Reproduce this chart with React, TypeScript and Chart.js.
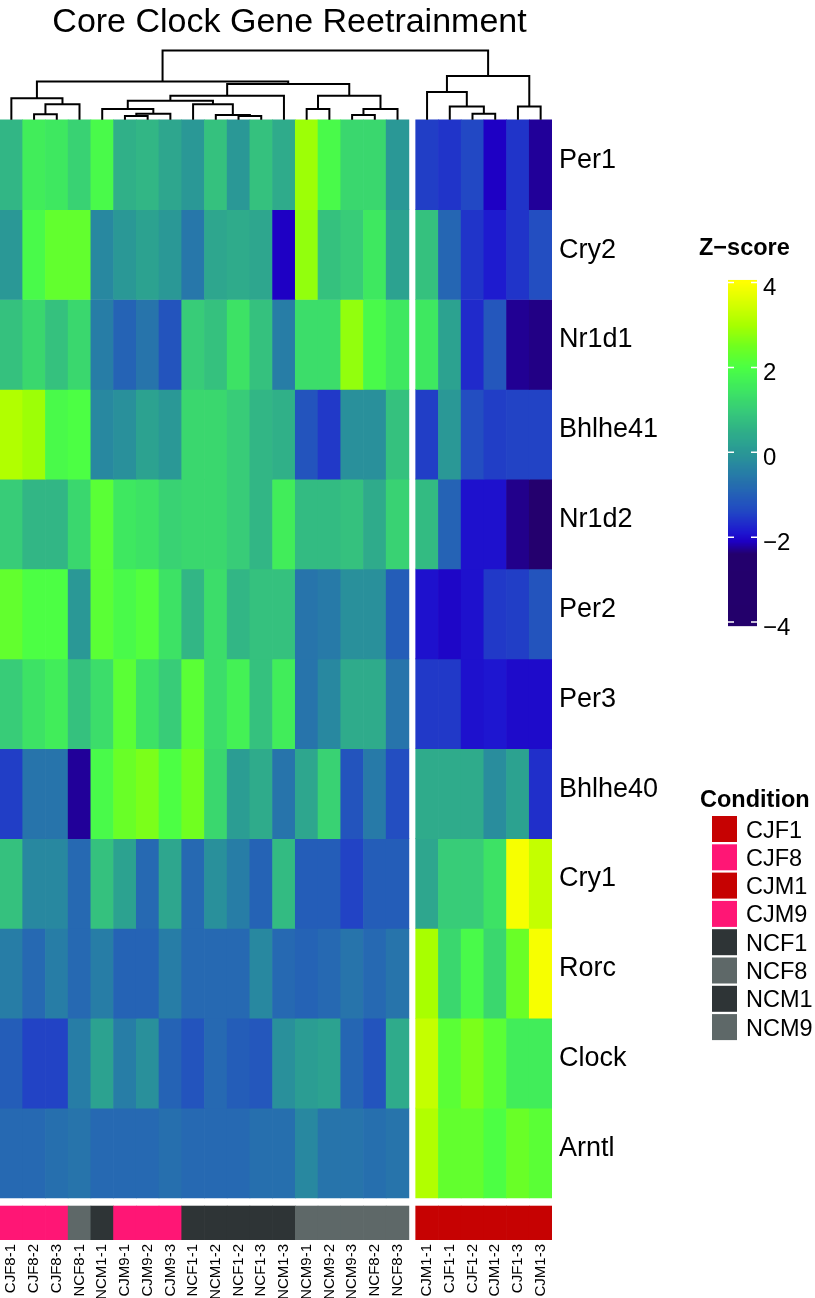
import React, { useEffect, useRef } from "react";
import { Chart, registerables } from "chart.js";

Chart.register(...registerables);

// ---------------- data ----------------
const TITLE = "Core Clock Gene Reetrainment";

const GENES = ["Per1", "Cry2", "Nr1d1", "Bhlhe41", "Nr1d2", "Per2", "Per3", "Bhlhe40", "Cry1", "Rorc", "Clock", "Arntl"];

const SAMPLES = [
  "CJF8-1", "CJF8-2", "CJF8-3", "NCF8-1", "NCM1-1", "CJM9-1", "CJM9-2", "CJM9-3", "NCF1-1",
  "NCM1-2", "NCF1-2", "NCF1-3", "NCM1-3", "NCM9-1", "NCM9-2", "NCM9-3", "NCF8-2", "NCF8-3",
  "CJM1-1", "CJF1-1", "CJF1-2", "CJM1-2", "CJF1-3", "CJM1-3",
];

// number of samples in the first column cluster (cutree split)
const FIRST_CLUSTER_SIZE = 18;

const PER1 = [0.6, 1.6, 1.5, 1.1, 1.9, 0.5, 0.6, 0.3, 0.0, 0.8, 0.0, 0.8, 0.4, 2.9, 1.9, 1.2, 1.2, 0.0, -1.5, -1.6, -1.4, -2.1, -1.6, -2.25];
const CRY2 = [0.0, 1.9, 2.3, 2.3, -0.3, 0.0, 0.2, 0.0, -0.6, 0.3, 0.4, 0.3, -2.1, 2.8, 0.8, 1.0, 1.5, 0.2, 0.8, -0.9, -1.6, -1.85, -1.6, -1.3];
const NR1D1 = [0.8, 1.2, 0.8, 1.2, -0.5, -0.95, -0.65, -1.2, 1.0, 0.8, 1.4, 0.8, -0.5, 1.3, 1.3, 2.8, 1.9, 1.5, 1.5, 0.2, -1.7, -1.15, -2.27, -2.32];
const BHLHE41 = [3.1, 2.9, 1.9, 2.0, -0.3, -0.15, 0.2, 0.0, 1.2, 1.2, 1.0, 0.6, 0.5, -1.2, -1.55, -0.15, -0.15, 0.8, -1.5, 0.0, -1.3, -1.5, -1.45, -1.45];
const NR1D2 = [1.0, 0.6, 0.6, 1.2, 2.2, 1.5, 1.4, 1.1, 1.2, 1.2, 1.0, 0.6, 1.6, 0.7, 0.7, 0.8, 0.4, 1.1, 0.7, -0.95, -1.95, -1.95, -2.3, -2.6];
const PER2 = [2.3, 2.0, 2.0, 0.0, 2.2, 1.9, 2.1, 1.4, 0.6, 1.3, 0.6, 0.8, 0.8, -0.65, -0.55, -0.15, -0.15, -1.05, -1.95, -2.05, -1.95, -1.55, -1.5, -1.2];
const PER3 = [1.0, 1.4, 1.6, 0.8, 1.3, 2.2, 1.4, 1.0, 2.2, 1.3, 1.7, 0.8, 1.6, -0.65, -0.3, 0.4, 0.4, -0.65, -1.55, -1.55, -1.95, -1.9, -2.0, -2.0];
const BHLHE40 = [-1.5, -0.65, -0.65, -2.25, 1.9, 2.4, 2.6, 2.0, 2.5, 1.2, 0.1, 0.4, -0.65, 0.3, 1.1, -1.2, -0.55, -1.3, 0.4, 0.4, 0.4, -0.2, 0.2, -1.65];
const CRY1 = [0.8, -0.3, -0.3, -0.85, 0.8, 0.2, -0.85, 0.3, -0.85, -0.15, -0.5, -0.95, 0.7, -1.05, -1.05, -1.45, -1.05, -1.05, 0.3, 1.0, 1.0, 1.4, 3.9, 3.3];
const RORC = [-0.5, -0.85, -0.5, -0.85, -0.5, -0.95, -0.95, -0.5, -0.85, -0.85, -0.85, -0.3, -0.85, -0.95, -0.85, -0.65, -0.85, -0.65, 3.0, 1.2, 1.9, 1.2, 2.4, 3.9];
const CLOCK = [-1.05, -1.45, -1.45, -0.5, 0.2, -0.5, -0.15, -0.95, -1.2, -0.85, -1.05, -1.15, -0.15, 0.1, 0.2, -0.9, -1.2, 0.4, 3.3, 2.2, 2.6, 2.2, 1.6, 1.6];
const ARNTL = [-0.85, -0.85, -0.75, -0.65, -0.85, -0.85, -0.85, -0.75, -0.85, -0.85, -0.85, -0.75, -0.75, -0.3, -0.65, -0.65, -0.75, -0.65, 3.1, 2.3, 2.3, 2.0, 2.4, 2.2];

const Z_ROWS = [PER1, CRY2, NR1D1, BHLHE41, NR1D2, PER2, PER3, BHLHE40, CRY1, RORC, CLOCK, ARNTL];

const CONDITIONS = ["CJF1", "CJF8", "CJM1", "CJM9", "NCF1", "NCF8", "NCM1", "NCM9"];
const CONDITION_COLORS = ["#C60202", "#FF1675", "#C60202", "#FF1675", "#2E3436", "#5E6868", "#2E3436", "#5E6868"];

const Z_TICKS = [4, 2, 0, -2, -4];

// column dendrogram (hclust style: negative = leaf column number, positive = earlier merge number)
const MERGE_PAIRS: [number, number][] = [
  [-2, -3], [1, -4], [-1, 2], [-6, -7], [4, -8], [-5, 5], [-11, -12], [-10, 7], [-9, 8], [6, 9],
  [10, -13], [-14, -15], [-16, -17], [13, -18], [12, 14], [11, 15], [3, 16], [-21, -22], [-20, 18],
  [-19, 19], [-23, -24], [20, 21], [17, 22],
];
const MERGE_HEIGHTS = [
  0.54, 1.54, 2.15, 0.37, 0.61, 1.07, 0.37, 0.47, 1.54, 1.90,
  2.40, 1.07, 0.47, 1.07, 2.40, 3.58, 3.83, 0.61, 1.33,
  2.77, 1.33, 4.37, 6.92,
];

// ---------------- layout / style ----------------
const W = 815;
const H = 1298;
const AREA_TOP = 47;
const AREA_RIGHT = 552;
const XAXIS_H = 58;
const GAP_COLS = 0.3;
const DEND_ROWS = 0.81;
const ANNO_GAP = 0.09;
const ANNO_ROWS = 0.378;
const DEND_TOP = 7.27;
const FONT = '"Liberation Sans", Arial, Helvetica, sans-serif';

const PALETTE: [number, number, number, number][] = [
  [-4.0, 36, 0, 108],
  [-2.4, 36, 0, 110],
  [-2.1, 30, 0, 196],
  [-1.9, 30, 22, 208],
  [-1.4, 34, 72, 196],
  [-0.8, 38, 108, 176],
  [-0.3, 40, 136, 160],
  [0.0, 42, 152, 150],
  [0.5, 48, 176, 136],
  [1.0, 56, 204, 120],
  [1.5, 62, 232, 96],
  [2.0, 76, 255, 68],
  [2.5, 112, 255, 32],
  [3.0, 168, 255, 0],
  [3.5, 214, 255, 0],
  [4.0, 255, 255, 0],
];

function zColor(v: number): string {
  const z = Math.max(-4, Math.min(4, v));
  for (let i = 1; i < PALETTE.length; i++) {
    const a = PALETTE[i - 1];
    const b = PALETTE[i];
    if (z <= b[0]) {
      const t = (z - a[0]) / (b[0] - a[0]);
      const r = Math.round(a[1] + (b[1] - a[1]) * t);
      const g = Math.round(a[2] + (b[2] - a[2]) * t);
      const bl = Math.round(a[3] + (b[3] - a[3]) * t);
      return `rgb(${r},${g},${bl})`;
    }
  }
  return "rgb(255,255,0)";
}

const colX = (i: number) => i + 0.5 + (i >= FIRST_CLUSTER_SIZE ? GAP_COLS : 0);
const X_MAX = SAMPLES.length + GAP_COLS;
const Y_MIN = -DEND_ROWS;
const Y_MAX = GENES.length + ANNO_GAP + ANNO_ROWS;
const D_MIN = DEND_TOP - (DEND_TOP * (Y_MAX - Y_MIN)) / DEND_ROWS;

function dendrogramPoints() {
  const nx: number[] = [];
  const pts: { x: number; y: number | null }[] = [];
  const pos = (id: number) =>
    id < 0 ? { x: colX(-id - 1), h: 0 } : { x: nx[id - 1], h: MERGE_HEIGHTS[id - 1] };
  MERGE_PAIRS.forEach(([a, b], k) => {
    const pa = pos(a);
    const pb = pos(b);
    const h = MERGE_HEIGHTS[k];
    nx[k] = (pa.x + pb.x) / 2;
    pts.push({ x: pa.x, y: pa.h }, { x: pa.x, y: h }, { x: pb.x, y: h }, { x: pb.x, y: pb.h }, { x: pb.x, y: null });
  });
  return pts;
}

const legendPlugin = {
  id: "heatmapLegends",
  afterDraw(chart: any) {
    const ctx: CanvasRenderingContext2D = chart.ctx;
    ctx.save();
    ctx.fillStyle = "#000";
    ctx.textBaseline = "alphabetic";

    // title
    ctx.font = `34px ${FONT}`;
    ctx.textAlign = "center";
    ctx.fillText(TITLE, 289.5, 31.5);

    // Z-score colour bar
    ctx.textAlign = "left";
    ctx.font = `bold 23.5px ${FONT}`;
    ctx.fillText("Z\u2212score", 699, 255);
    const yOf = (v: number) => 282.5 + (4 - v) * 42.44;
    const barX = 728;
    const barW = 29;
    const top = yOf(4.06);
    const bottom = yOf(-4.07);
    for (let py = top; py < bottom; py += 1) {
      const v = 4 - (py + 0.5 - 282.5) / 42.44;
      ctx.fillStyle = zColor(v);
      ctx.fillRect(barX, py, barW, 1.2);
    }
    ctx.strokeStyle = "#fff";
    ctx.lineWidth = 1.5;
    ctx.font = `24px ${FONT}`;
    Z_TICKS.forEach((t) => {
      const y = yOf(t);
      ctx.beginPath();
      ctx.moveTo(barX, y);
      ctx.lineTo(barX + 6, y);
      ctx.moveTo(barX + barW - 6, y);
      ctx.lineTo(barX + barW, y);
      ctx.stroke();
      ctx.fillStyle = "#000";
      ctx.fillText(t < 0 ? `\u2212${Math.abs(t)}` : String(t), 763, y + 12.5);
    });

    // Condition legend
    ctx.fillStyle = "#000";
    ctx.font = `bold 23.5px ${FONT}`;
    ctx.fillText("Condition", 700, 807);
    ctx.font = `23.5px ${FONT}`;
    CONDITIONS.forEach((c, i) => {
      const y0 = 816 + i * 28.3;
      ctx.fillStyle = CONDITION_COLORS[i];
      ctx.fillRect(712, y0, 25, 26);
      ctx.fillStyle = "#000";
      ctx.fillText(c, 746, y0 + 21.5);
    });
    ctx.restore();
  },
};

export default function App() {
  const ref = useRef<HTMLCanvasElement>(null);

  useEffect(() => {
    const heatSets = GENES.map((g, r) => ({
      type: "bar" as const,
      label: g,
      data: SAMPLES.map((_, c) => ({ x: colX(c), y: [r, r + 1] })),
      backgroundColor: Z_ROWS[r].map(zColor),
      borderWidth: 0,
      grouped: false,
      barPercentage: 1,
      categoryPercentage: 1,
      xAxisID: "x",
      yAxisID: "y",
    }));
    const annoSet = {
      type: "bar" as const,
      label: "Condition",
      data: SAMPLES.map((_, c) => ({
        x: colX(c),
        y: [GENES.length + ANNO_GAP, GENES.length + ANNO_GAP + ANNO_ROWS],
      })),
      backgroundColor: SAMPLES.map((s) => CONDITION_COLORS[CONDITIONS.indexOf(s.split("-")[0])]),
      borderWidth: 0,
      grouped: false,
      barPercentage: 1,
      categoryPercentage: 1,
      xAxisID: "x",
      yAxisID: "y",
    };
    const dendSet = {
      type: "line" as const,
      label: "dendrogram",
      data: dendrogramPoints(),
      borderColor: "#000",
      borderWidth: 2,
      pointRadius: 0,
      spanGaps: false,
      tension: 0,
      fill: false,
      xAxisID: "x",
      yAxisID: "yD",
    };

    const chart = new Chart(ref.current as HTMLCanvasElement, {
      type: "bar",
      data: { datasets: [dendSet, ...heatSets, annoSet] as any },
      options: {
        animation: false,
        responsive: false,
        events: [],
        layout: { padding: { top: AREA_TOP, left: 0, right: 0, bottom: 0 } },
        plugins: { legend: { display: false }, tooltip: { enabled: false }, title: { display: false } },
        scales: {
          x: {
            type: "linear",
            min: 0,
            max: X_MAX,
            offset: false,
            position: "bottom",
            grid: { display: false, drawTicks: false },
            border: { display: false },
            afterBuildTicks: (s: any) => {
              s.ticks = SAMPLES.map((_, c) => ({ value: colX(c) }));
            },
            afterFit: (s: any) => {
              s.height = XAXIS_H;
              s.paddingLeft = 0;
              s.paddingRight = 0;
            },
            ticks: {
              autoSkip: false,
              minRotation: 90,
              maxRotation: 90,
              padding: 4,
              color: "#000",
              font: { family: FONT, size: 15 },
              callback: (_v: any, i: number) => SAMPLES[i],
            },
          },
          y: {
            type: "linear",
            reverse: true,
            min: Y_MIN,
            max: Y_MAX,
            position: "right",
            grid: { display: false, drawTicks: false },
            border: { display: false },
            afterBuildTicks: (s: any) => {
              s.ticks = GENES.map((_, r) => ({ value: r + 0.5 }));
            },
            afterFit: (s: any) => {
              s.width = W - AREA_RIGHT;
              s.paddingTop = 0;
              s.paddingBottom = 0;
            },
            ticks: {
              autoSkip: false,
              padding: 7,
              labelOffset: -4.5,
              color: "#000",
              font: { family: FONT, size: 27 },
              callback: (_v: any, i: number) => GENES[i],
            },
          },
          yD: {
            type: "linear",
            display: false,
            position: "left",
            min: D_MIN,
            max: DEND_TOP,
          },
        } as any,
      },
      plugins: [legendPlugin],
    });
    return () => chart.destroy();
  }, []);

  return (
    <div style={{ position: "absolute", left: 0, top: 0, width: W, height: H, background: "#fff" }}>
      <canvas ref={ref} width={W} height={H} style={{ display: "block" }} />
    </div>
  );
}
